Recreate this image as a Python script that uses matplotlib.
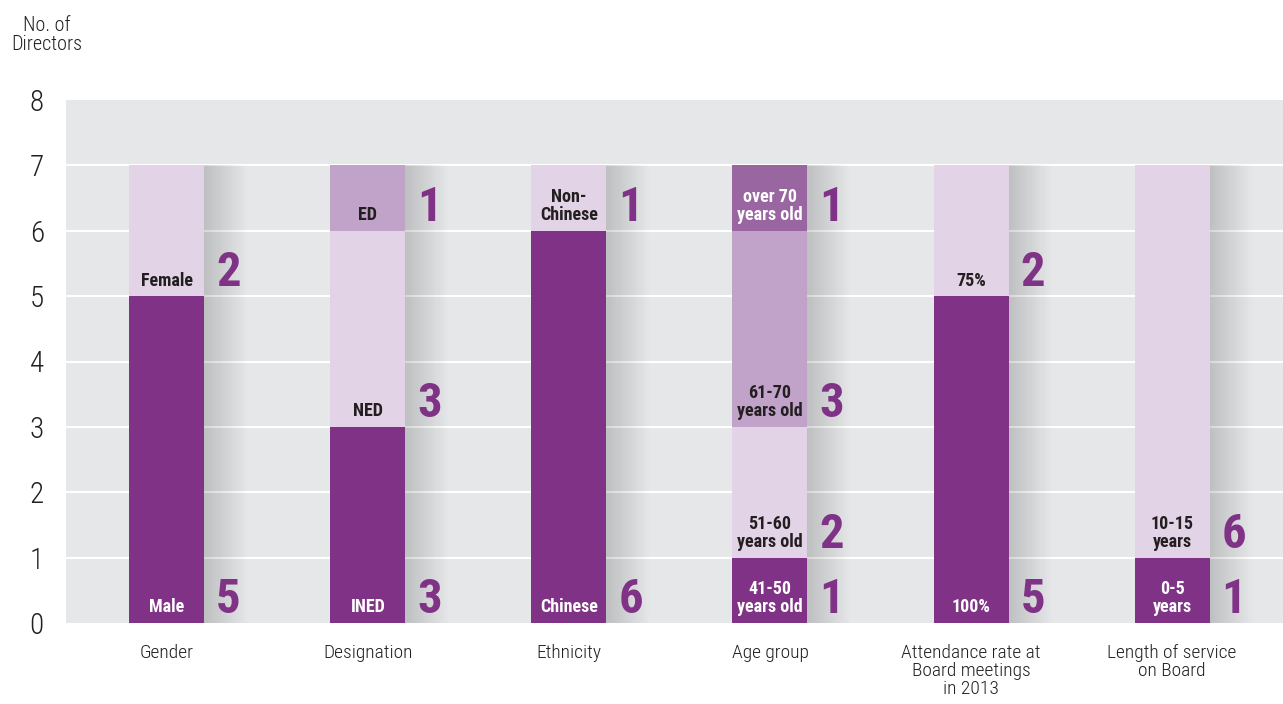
import numpy as np
import matplotlib
matplotlib.use('Agg')
from matplotlib import pyplot as plt
from matplotlib import font_manager

categories = ['Gender', 'Designation', 'Ethnicity', 'Age group',
              'Attendance rate at\nBoard meetings\nin 2013', 'Length of service\non Board']

# stacked segments, bottom to top
level0_vals = [5, 3, 6, 1, 5, 1]
level1_vals = [2, 3, 1, 2, 2, 6]
level2_vals = [0, 1, 0, 3, 0, 0]
level3_vals = [0, 0, 0, 1, 0, 0]

level0_labels = ['Male', 'INED', 'Chinese', '41-50\nyears old', '100%', '0-5\nyears']
level1_labels = ['Female', 'NED', 'Non-\nChinese', '51-60\nyears old', '75%', '10-15\nyears']
level2_labels = ['', 'ED', '', '61-70\nyears old', '', '']
level3_labels = ['', '', '', 'over 70\nyears old', '', '']

levels = [level0_vals, level1_vals, level2_vals, level3_vals]
labels = [level0_labels, level1_labels, level2_labels, level3_labels]
colors = ['#7F3286', '#E2D3E6', '#C1A2C9', '#9A66A2']
text_colors = ['white', '#231F20', '#231F20', 'white']
num_color = '#7F3286'

names = set(f.name for f in font_manager.fontManager.ttflist)
fam = 'Roboto Condensed' if 'Roboto Condensed' in names else 'DejaVu Sans'
plt.rcParams['font.family'] = [fam, 'DejaVu Sans']
plt.rcParams['font.stretch'] = 'condensed'

fig = plt.figure(figsize=(12.83, 7.04), dpi=100)
ax = fig.add_axes([66/1283, 81/704, 1 - 66/1283, 523/704])
ax.set_facecolor('#E6E7E8')

x = np.arange(len(categories))
width = 0.373

for gy in range(1, 8):
    ax.axhline(gy, color='white', lw=1.5, zorder=1)

# soft shadow to the right of each bar
totals = [sum(v) for v in zip(*levels)]
for k in range(20):
    ax.bar(x + 0.005 + k * 0.011, totals, width, color='black',
           alpha=0.008, zorder=2, linewidth=0)

bottom = np.zeros(len(categories))
for lv, vals in enumerate(levels):
    vals = np.array(vals)
    ax.bar(x, vals, width, bottom=bottom, color=colors[lv], zorder=3, linewidth=0)
    for i in range(len(categories)):
        if vals[i] == 0:
            continue
        ax.text(x[i], bottom[i] + 0.1, labels[lv][i], ha='center', va='bottom',
                color=text_colors[lv], fontsize=13, fontweight='bold',
                linespacing=1.0, zorder=4)
        ax.text(x[i] + width / 2 + 0.12, bottom[i] + 0.15, str(vals[i]),
                ha='center', va='baseline', color=num_color, fontsize=35,
                fontweight='bold', zorder=4)
    bottom += vals

ax.set_xlim(-0.502, 5.552)
ax.set_ylim(0, 8)
ax.set_yticks(range(9))
ax.set_xticks(x)
ax.set_xticklabels(categories, fontsize=14, color='#231F20', linespacing=1.0,
                   fontweight='light')
for t in ax.get_yticklabels():
    t.set_fontweight('light')
ax.tick_params(axis='both', length=0)
ax.tick_params(axis='y', labelsize=21, labelcolor='#231F20', pad=16)
ax.tick_params(axis='x', pad=15)
for s in ax.spines.values():
    s.set_visible(False)

fig.text(47/1283, 1 - 35/704, 'No. of\nDirectors', ha='center', va='center',
         fontsize=14.5, color='#231F20', linespacing=1.0, fontweight='light')

fig.savefig('out.png', dpi=100)
